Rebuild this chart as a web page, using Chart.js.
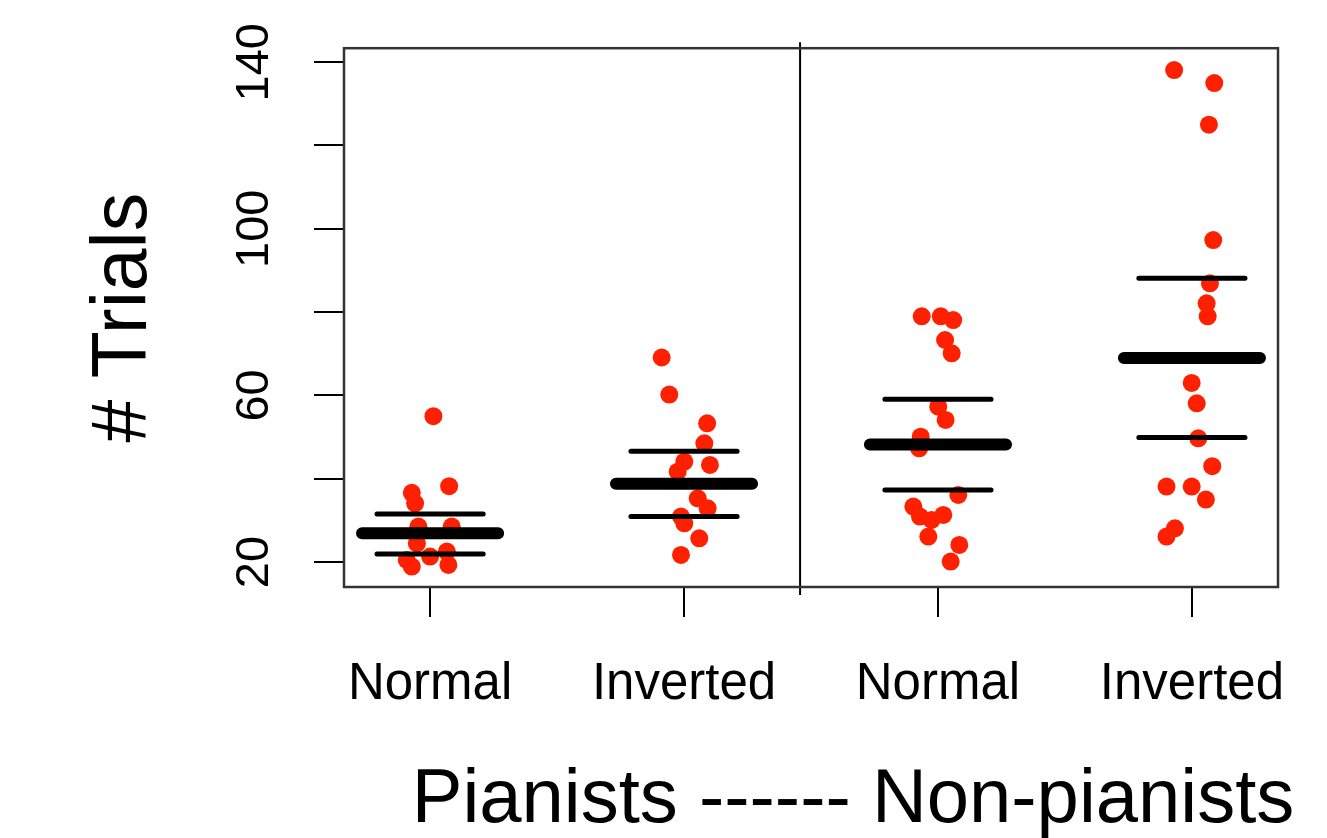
<!DOCTYPE html>
<html>
<head>
<meta charset="utf-8">
<script src="https://cdn.jsdelivr.net/npm/chart.js@4.4.1/dist/chart.umd.min.js"></script>
<style>
  html, body { margin: 0; padding: 0; background: #ffffff; }
  #wrap { width: 1327px; height: 838px; }
</style>
</head>
<body>
<div id="wrap"><canvas id="c" width="1327" height="838"></canvas></div>
<script>
// ---------- data ----------
const categories = ['Normal', 'Inverted', 'Normal', 'Inverted'];

const pianoNormalValues   = [55.0, 36.6, 34.1, 38.2, 28.5, 28.5, 24.5, 20.5, 18.9, 21.3, 22.5, 19.3];
const pianoNormalJitter   = [0.013, -0.072, -0.059, 0.075, -0.046, 0.085, -0.052, -0.092, -0.072, 0.0, 0.066, 0.072];

const pianoInvertedValues = [69.1, 60.2, 53.3, 48.5, 44.1, 41.7, 43.3, 35.3, 32.9, 30.9, 29.3, 25.7, 21.7];
const pianoInvertedJitter = [-0.088, -0.058, 0.091, 0.080, 0.001, -0.025, 0.102, 0.054, 0.093, -0.012, 0.001, 0.060, -0.012];

const nonNormalValues     = [79.0, 79.0, 78.1, 73.3, 70.1, 57.3, 54.1, 50.1, 47.3, 36.1, 33.3, 30.9, 31.3, 30.1, 26.1, 24.1, 20.1];
const nonNormalJitter     = [-0.064, 0.011, 0.060, 0.028, 0.054, 0.001, 0.030, -0.068, -0.074, 0.080, -0.097, -0.071, 0.021, -0.025, -0.038, 0.084, 0.050];

const nonInvertedValues   = [138.1, 135.0, 125.0, 97.3, 86.9, 82.1, 79.0, 63.0, 58.1, 49.7, 43.0, 38.1, 38.1, 35.0, 28.1, 26.1];
const nonInvertedJitter   = [-0.070, 0.088, 0.067, 0.084, 0.071, 0.058, 0.062, -0.001, 0.019, 0.025, 0.080, -0.100, -0.001, 0.055, -0.067, -0.100];

const groupMeans = [26.9, 38.8, 48.2, 69.0];
const groupUpper = [31.5, 46.6, 59.1, 88.1];
const groupLower = [21.9, 30.9, 37.3, 49.9];

const yTicks      = [20, 40, 60, 80, 100, 120, 140];
const yTickLabels = ['20', '', '60', '', '100', '', '140'];
const xTicks      = [1, 2, 3, 4];

const dividerX = 2.457;
const yTitle = '# Trials';
const xTitle = 'Pianists ------ Non-pianists';

// ---------- styling constants ----------
const FONT = "'Liberation Sans', Arial, Helvetica, sans-serif";
const MEAN_HALF = 0.268;
const SE_HALF = 0.209;
const XTITLE_SIZE = 76;
const XTITLE_SHIFT = 42;     // px to the right of the plot centre
const XTITLE_BASELINE = 16;  // px above the canvas bottom

const valueGroups = [pianoNormalValues, pianoInvertedValues, nonNormalValues, nonInvertedValues];
const jitterGroups = [pianoNormalJitter, pianoInvertedJitter, nonNormalJitter, nonInvertedJitter];

const points = [];
valueGroups.forEach((vals, gi) => {
  vals.forEach((v, k) => points.push({ x: xTicks[gi] + jitterGroups[gi][k], y: v }));
});

function segments(values, half) {
  const out = [];
  values.forEach((v, i) => {
    out.push({ x: xTicks[i] - half, y: v });
    out.push({ x: xTicks[i] + half, y: v });
    out.push({ x: xTicks[i] + 0.5, y: null });
  });
  return out;
}

const boxPlugin = {
  id: 'boxAndDivider',
  afterDatasetsDraw(chart) {
    const { ctx, chartArea } = chart;
    ctx.save();
    const xp = chart.scales.x.getPixelForValue(dividerX);
    ctx.strokeStyle = '#000';
    ctx.lineWidth = 2;
    ctx.beginPath();
    ctx.moveTo(xp, chartArea.top - 6);
    ctx.lineTo(xp, chartArea.bottom + 8);
    ctx.stroke();
    ctx.strokeStyle = '#333';
    ctx.lineWidth = 2.5;
    ctx.strokeRect(chartArea.left, chartArea.top, chartArea.right - chartArea.left, chartArea.bottom - chartArea.top);
    ctx.restore();
  },
  afterDraw(chart) {
    const { ctx, chartArea } = chart;
    const xs = chart.scales.x;
    ctx.save();
    ctx.fillStyle = '#000';
    ctx.font = XTITLE_SIZE + 'px ' + FONT;
    ctx.textAlign = 'center';
    ctx.textBaseline = 'alphabetic';
    ctx.fillText(xTitle, (chartArea.left + chartArea.right) / 2 + XTITLE_SHIFT, xs.bottom - XTITLE_BASELINE);
    ctx.restore();
  }
};

new Chart(document.getElementById('c'), {
  type: 'scatter',
  data: {
    datasets: [
      {
        type: 'line',
        data: segments(groupMeans, MEAN_HALF),
        borderColor: '#000',
        borderWidth: 12,
        borderCapStyle: 'round',
        pointRadius: 0,
        spanGaps: false,
        order: 0
      },
      {
        type: 'line',
        data: segments(groupUpper, SE_HALF),
        borderColor: '#000',
        borderWidth: 5,
        borderCapStyle: 'round',
        pointRadius: 0,
        spanGaps: false,
        order: 1
      },
      {
        type: 'line',
        data: segments(groupLower, SE_HALF),
        borderColor: '#000',
        borderWidth: 5,
        borderCapStyle: 'round',
        pointRadius: 0,
        spanGaps: false,
        order: 2
      },
      {
        type: 'scatter',
        data: points,
        backgroundColor: 'rgb(255,32,0)',
        borderColor: 'rgb(255,32,0)',
        borderWidth: 0,
        pointRadius: 9,
        order: 3
      }
    ]
  },
  options: {
    responsive: false,
    animation: false,
    events: [],
    layout: { padding: { left: 0, right: 49, top: 48, bottom: 0 } },
    plugins: { legend: { display: false }, tooltip: { enabled: false } },
    scales: {
      x: {
        type: 'linear',
        min: 0.661,
        max: 4.339,
        afterBuildTicks: (s) => { s.ticks = xTicks.map(v => ({ value: v })); },
        afterFit: (s) => { s.height = 251; },
        border: { display: false },
        grid: { display: true, drawOnChartArea: false, drawTicks: true, tickLength: 30, color: '#000', lineWidth: 2 },
        ticks: {
          autoSkip: false, maxRotation: 0, minRotation: 0,
          color: '#000', padding: 37,
          font: { family: FONT, size: 51 },
          callback: (v) => categories[xTicks.indexOf(v)]
        },
        title: { display: false }
      },
      y: {
        type: 'linear',
        min: 14.0,
        max: 143.36,
        afterBuildTicks: (s) => { s.ticks = yTicks.map(v => ({ value: v })); },
        afterFit: (s) => { s.width = 344; },
        border: { display: false },
        grid: { display: true, drawOnChartArea: false, drawTicks: true, tickLength: 30, color: '#000', lineWidth: 2 },
        ticks: {
          autoSkip: false, minRotation: 90, maxRotation: 90,
          crossAlign: 'center',
          color: '#000', padding: 20,
          font: { family: FONT, size: 47 },
          callback: (v) => yTickLabels[yTicks.indexOf(v)]
        },
        title: {
          display: true,
          text: yTitle,
          color: '#000',
          font: { family: FONT, size: 77, lineHeight: 1.2 },
          padding: { top: 79, bottom: 0 }
        }
      }
    }
  },
  plugins: [boxPlugin]
});
</script>
</body>
</html>
